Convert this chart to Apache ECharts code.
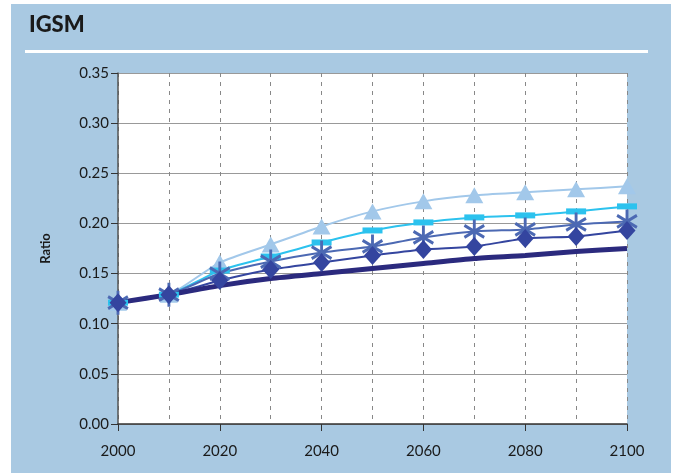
<!DOCTYPE html>
<html>
<head>
<meta charset="utf-8">
<script src="https://cdn.jsdelivr.net/npm/echarts@6/dist/echarts.min.js"></script>
<style>
    body {margin:0;padding:0;background:#fff}
    #chart {width:675px;height:473px}
</style>
</head>
<body>
<div id="chart"></div>
<script>
    var years = [2000, 2010, 2020, 2030, 2040, 2050, 2060, 2070, 2080, 2090, 2100];
    var thickLine = [0.121, 0.129, 0.138, 0.145, 0.150, 0.155, 0.160, 0.165, 0.168, 0.172, 0.175];
    var diamondLine = [0.121, 0.129, 0.143, 0.154, 0.161, 0.168, 0.174, 0.177, 0.185, 0.187, 0.193];
    var starLine = [0.121, 0.129, 0.150, 0.162, 0.171, 0.177, 0.186, 0.192, 0.194, 0.199, 0.202];
    var dashLine = [0.121, 0.129, 0.153, 0.167, 0.181, 0.193, 0.201, 0.206, 0.208, 0.212, 0.217];
    var triangleLine = [0.121, 0.129, 0.161, 0.179, 0.197, 0.212, 0.222, 0.228, 0.231, 0.234, 0.237];

    function pairs(vals) {
        return years.map(function (y, i) { return [y, vals[i]]; });
    }

    var chart = echarts.init(document.getElementById('chart'));
    var font = 'Lato, "DejaVu Sans", sans-serif';
    var starPath = 'path://M0,-10L0,10M-9,-5L9,5M-9,5L9,-5';

    var option = {
        backgroundColor: '#ffffff',
        animation: false,
        title: {
            text: 'IGSM',
            left: 24,
            top: 9,
            textStyle: {fontFamily: font, fontSize: 22, fontWeight: 900, color: '#1a1a1a'}
        },
        graphic: [
            {type: 'rect', z: -10, shape: {x: 11, y: 4, width: 660, height: 469}, style: {fill: '#a9c9e2'}},
            {type: 'rect', z: -9, shape: {x: 25, y: 50, width: 623, height: 3}, style: {fill: '#ffffff'}}
        ],
        grid: {
            left: 118, right: 48, top: 73, bottom: 49,
            show: true, backgroundColor: '#ffffff', borderWidth: 0
        },
        xAxis: {
            type: 'value',
            min: 2000, max: 2100, interval: 20,
            axisLine: {lineStyle: {color: '#333', width: 1.5}},
            axisTick: {show: true, length: 7, lineStyle: {color: '#333'}},
            minorTick: {show: false, splitNumber: 2},
            axisLabel: {margin: 20, fontFamily: font, fontSize: 15, color: '#1a1a1a',
                formatter: function (v) { return String(v); }},
            splitLine: {show: true, lineStyle: {color: '#888', type: [4, 5], width: 1}},
            minorSplitLine: {show: true, lineStyle: {color: '#888', type: [4, 5], width: 1}}
        },
        yAxis: {
            type: 'value',
            min: 0, max: 0.35, interval: 0.05,
            name: 'Ratio',
            nameLocation: 'middle',
            nameRotate: 90,
            nameGap: 66,
            nameTextStyle: {fontFamily: font, fontSize: 13, fontWeight: 'bold', color: '#1a1a1a'},
            axisLine: {show: true, lineStyle: {color: '#555', width: 1.5}},
            axisTick: {show: true, inside: false, length: 7, lineStyle: {color: '#333'}},
            axisLabel: {margin: 9, fontFamily: font, fontSize: 15, color: '#1a1a1a',
                formatter: function (v) { return v.toFixed(2); }},
            splitLine: {show: true, lineStyle: {color: '#999', width: 1}}
        },
        series: [
            {
                name: 'triangle', type: 'line', data: pairs(triangleLine), smooth: 0.2,
                symbol: 'triangle', symbolSize: [18, 16],
                lineStyle: {color: '#a2c8ea', width: 2},
                itemStyle: {color: '#a2c8ea', borderWidth: 0}
            },
            {
                name: 'dash', type: 'line', data: pairs(dashLine), smooth: 0.2,
                symbol: 'rect', symbolSize: [20, 6],
                lineStyle: {color: '#2cc2ee', width: 2},
                itemStyle: {color: '#2cc2ee', borderWidth: 0}
            },
            {
                name: 'star', type: 'line', data: pairs(starLine), smooth: 0.2,
                symbol: starPath, symbolSize: [22, 24], symbolKeepAspect: true,
                lineStyle: {color: '#4c69b3', width: 2},
                itemStyle: {color: '#4c69b3', borderColor: '#4c69b3', borderWidth: 3}
            },
            {
                name: 'diamond', type: 'line', data: pairs(diamondLine), smooth: 0.2,
                symbol: 'diamond', symbolSize: [17, 19],
                lineStyle: {color: '#34459f', width: 2},
                itemStyle: {color: '#34459f', borderWidth: 0}
            },
            {
                name: 'thick', type: 'line', data: pairs(thickLine), smooth: 0.2,
                showSymbol: false, symbol: 'none',
                lineStyle: {color: '#2b2a7e', width: 5}
            }
        ]
    };
    chart.setOption(option);
</script>
</body>
</html>
